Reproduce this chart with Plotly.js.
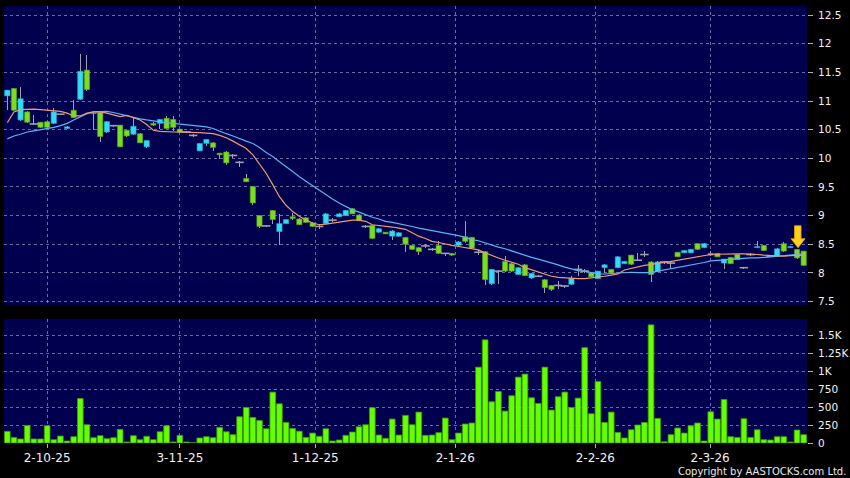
<!DOCTYPE html>
<html>
<head>
<meta charset="utf-8">
<script src="https://cdn.plot.ly/plotly-3.0.1.min.js"></script>
<style>html,body{margin:0;padding:0;background:#000;}#chart{width:850px;height:478px;}</style>
</head>
<body>
<div id="chart"></div>
<script>
// ---- data (index = trading day) ----
const opens = [11.09,11.22,10.67,10.81,10.60,10.63,10.64,10.61,10.77,10.52,
10.84,11.03,11.54,10.78,10.80,10.46,10.57,10.58,10.49,10.42,
10.43,10.20,10.61,10.61,10.70,10.68,10.51,10.46,10.40,10.13,
10.26,10.27,10.09,10.11,10.05,9.93,9.65,9.51,9.00,8.82,
9.09,8.72,8.86,8.98,8.94,8.96,8.87,8.81,8.86,8.92,
8.98,9.00,9.12,9.01,8.81,8.83,8.71,8.71,8.64,8.64,
8.62,8.48,8.44,8.47,8.41,8.48,8.34,8.34,8.48,8.63,
8.62,8.36,8.37,7.81,8.03,8.20,8.16,7.97,8.14,7.91,
7.94,7.88,7.78,7.78,7.77,7.80,8.06,8.03,8.00,7.90,
8.09,8.06,8.09,8.16,8.31,8.22,8.32,8.19,8.02,8.19,
8.17,8.36,8.35,8.35,8.51,8.44,8.31,8.34,8.17,8.27,
8.32,8.09,8.32,8.44,8.48,8.29,8.29,8.51,8.44,8.41,8.38];
const highs = [11.20,11.23,11.25,10.82,10.75,10.64,10.65,10.88,10.78,10.56,
11.02,11.82,11.80,10.81,10.82,10.66,10.59,10.59,10.50,10.70,
10.44,10.32,10.63,10.69,10.74,10.74,10.52,10.48,10.42,10.27,
10.34,10.28,10.10,10.12,10.08,9.95,9.72,9.52,9.01,8.84,
9.10,9.02,8.94,9.05,8.95,8.97,8.88,8.86,9.04,8.95,
9.04,9.10,9.13,9.02,8.83,8.84,8.78,8.72,8.74,8.71,
8.63,8.49,8.45,8.51,8.43,8.56,8.35,8.35,8.55,8.90,
8.63,8.40,8.38,8.07,8.05,8.29,8.17,8.10,8.15,8.00,
7.97,7.89,7.79,7.85,7.79,7.95,8.13,8.06,8.01,8.04,
8.15,8.07,8.29,8.21,8.32,8.35,8.38,8.20,8.20,8.21,
8.19,8.37,8.40,8.42,8.52,8.52,8.38,8.35,8.25,8.28,
8.33,8.10,8.34,8.56,8.49,8.31,8.43,8.53,8.47,8.42,8.39];
const lows = [10.84,10.82,10.66,10.61,10.59,10.53,10.53,10.60,10.76,10.51,
10.70,11.02,11.18,10.49,10.29,10.45,10.55,10.19,10.38,10.41,
10.26,10.18,10.57,10.52,10.51,10.48,10.44,10.44,10.38,10.12,
10.21,10.13,9.98,9.88,10.00,9.84,9.58,9.18,8.78,8.80,
8.86,8.49,8.85,8.93,8.83,8.87,8.80,8.76,8.85,8.89,
8.97,8.99,9.02,8.90,8.79,8.59,8.70,8.67,8.58,8.63,
8.37,8.40,8.32,8.44,8.39,8.33,8.29,8.30,8.47,8.52,
8.42,8.31,7.78,7.78,7.80,8.02,8.02,7.96,7.94,7.90,
7.92,7.65,7.68,7.72,7.74,7.79,7.94,8.00,7.92,7.89,
8.00,7.99,8.08,8.15,8.14,8.20,8.28,7.84,8.01,8.16,
8.06,8.27,8.34,8.34,8.40,8.43,8.30,8.27,8.07,8.15,
8.22,8.07,8.30,8.43,8.38,8.27,8.28,8.37,8.43,8.25,8.12];
const closes = [11.19,10.84,11.04,10.63,10.60,10.54,10.54,10.81,10.77,10.55,
10.71,11.52,11.20,10.79,10.38,10.64,10.57,10.20,10.39,10.56,
10.27,10.31,10.58,10.68,10.52,10.54,10.45,10.46,10.40,10.26,
10.33,10.19,10.06,9.92,10.05,9.93,9.59,9.22,8.81,8.82,
8.93,8.86,8.93,8.95,8.84,8.88,8.81,8.81,9.03,8.92,
9.03,9.09,9.03,8.91,8.81,8.60,8.77,8.68,8.73,8.70,
8.50,8.41,8.37,8.47,8.41,8.34,8.34,8.31,8.54,8.55,
8.43,8.36,7.88,8.06,8.03,8.03,8.03,8.09,7.95,7.99,
7.94,7.74,7.71,7.78,7.77,7.90,8.06,8.03,7.93,8.03,
8.14,8.00,8.28,8.20,8.15,8.22,8.32,7.97,8.19,8.19,
8.17,8.28,8.39,8.41,8.41,8.51,8.34,8.28,8.24,8.16,
8.23,8.09,8.32,8.46,8.39,8.29,8.42,8.38,8.46,8.26,8.13];
const volumes = [162,78,56,245,56,56,241,46,97,28,
88,621,255,74,102,60,74,190,14,102,
46,93,46,157,241,14,107,14,5,70,
88,74,218,157,116,366,496,357,315,199,
710,547,287,203,165,78,139,93,199,28,
42,107,153,227,255,492,111,65,334,111,
385,255,431,107,111,144,348,46,139,265,
279,1058,1439,575,719,445,659,919,961,631,
552,1058,459,645,710,496,626,1330,408,858,
287,431,148,70,185,251,287,1648,343,18,
116,209,139,241,279,28,436,334,608,88,
78,339,78,185,46,42,88,88,14,181,116];
const maShort = [10.62,10.81,10.85,10.86,10.86,10.85,10.84,10.83,10.82,10.79,
10.74,10.74,10.79,10.81,10.81,10.79,10.76,10.73,10.75,10.71,
10.67,10.59,10.49,10.47,10.46,10.46,10.46,10.46,10.46,10.45,
10.44,10.43,10.40,10.36,10.30,10.23,10.17,10.06,9.91,9.74,
9.54,9.33,9.18,9.07,8.99,8.92,8.87,8.84,8.85,8.87,
8.89,8.91,8.92,8.92,8.90,8.84,8.83,8.81,8.80,8.78,
8.76,8.70,8.64,8.60,8.55,8.53,8.50,8.48,8.46,8.44,
8.42,8.40,8.35,8.30,8.26,8.22,8.19,8.15,8.09,8.05,
8.01,7.97,7.94,7.92,7.91,7.91,7.90,7.90,7.91,7.93,
7.94,7.96,7.98,8.05,8.08,8.11,8.13,8.145,8.17,8.18,
8.20,8.21,8.23,8.26,8.28,8.30,8.32,8.325,8.33,8.33,
8.33,8.33,8.33,8.32,8.31,8.30,8.29,8.29,8.30,8.31,8.31];
const maLong = [10.34,10.39,10.42,10.46,10.48,10.50,10.51,10.54,10.57,10.61,
10.67,10.72,10.78,10.81,10.82,10.82,10.80,10.77,10.75,10.72,
10.69,10.67,10.65,10.63,10.62,10.61,10.60,10.59,10.58,10.57,
10.55,10.52,10.47,10.43,10.39,10.34,10.30,10.26,10.19,10.10,
10.03,9.94,9.86,9.77,9.68,9.60,9.52,9.45,9.37,9.29,
9.22,9.16,9.10,9.06,9.01,8.97,8.94,8.90,8.88,8.86,
8.83,8.81,8.78,8.76,8.73,8.71,8.69,8.68,8.65,8.62,
8.58,8.56,8.52,8.49,8.45,8.42,8.38,8.35,8.31,8.27,
8.24,8.21,8.17,8.14,8.10,8.07,8.04,8.03,8.005,7.98,
7.98,7.99,8.00,8.005,8.01,8.005,8.00,8.005,8.03,8.05,
8.07,8.10,8.12,8.14,8.16,8.18,8.21,8.22,8.23,8.24,
8.24,8.25,8.26,8.26,8.27,8.27,8.28,8.29,8.30,8.32,8.33];
const tickLabels = ['2-10-25','3-11-25','1-12-25','2-1-26','2-2-26','2-3-26'];
const tickIndex = [6,26,46.4,67.5,88.6,105.9];
const volTicks = [0,250,500,750,1000,1250,1500];
const volTickText = ['0','250','500','750','1K','1.25K','1.5K'];
const markedIndex = 119;

// ---- derived drawing inputs ----
const idx = closes.map((_, i) => i);
const UP = '#33dcf6', DOWN = '#7cdc22', WICK = '#a0a0aa';
const bodyBase = [], bodyLen = [], bodyColor = [], bodyLine = [];
const dojiX = [], dojiY = [];
const wickBase = lows.slice(), wickLen = highs.map((h, i) => h - lows[i]);
for (let i = 0; i < closes.length; i++) {
  const o = opens[i], c = closes[i];
  if (c === o) {
    bodyBase.push(null); bodyLen.push(null); bodyColor.push(WICK); bodyLine.push(WICK);
    dojiX.push(i); dojiY.push(c);
    continue;
  }
  bodyBase.push(Math.min(o, c));
  bodyLen.push(Math.abs(c - o));
  bodyColor.push(c > o ? UP : DOWN);
  bodyLine.push(c > o ? '#1fa6c6' : '#4f9e12');
}

const GRID = 'rgba(140,140,190,0.75)';
const FONT = 'DejaVu Sans, Verdana, sans-serif';

const traces = [
  { type: 'bar', x: idx, y: wickLen, base: wickBase, width: 0.15, xaxis: 'x', yaxis: 'y',
    marker: { color: WICK, line: { width: 0 } }, hoverinfo: 'skip' },
  { type: 'bar', x: idx, y: bodyLen, base: bodyBase, width: 0.8, xaxis: 'x', yaxis: 'y',
    marker: { color: bodyColor, line: { color: bodyLine, width: 0.6 } }, hoverinfo: 'skip' },
  { type: 'scatter', mode: 'markers', x: dojiX, y: dojiY, xaxis: 'x', yaxis: 'y',
    marker: { symbol: 'line-ew', size: 6, line: { color: WICK, width: 1.6 } }, hoverinfo: 'skip' },
  { type: 'scatter', mode: 'lines', x: idx, y: maLong, xaxis: 'x', yaxis: 'y',
    line: { color: '#58b4f2', width: 1.2 }, hoverinfo: 'skip' },
  { type: 'scatter', mode: 'lines', x: idx, y: maShort, xaxis: 'x', yaxis: 'y',
    line: { color: '#f09a72', width: 1.2 }, hoverinfo: 'skip' },
  { type: 'bar', x: idx, y: volumes, width: 0.86, xaxis: 'x', yaxis: 'y2',
    marker: { color: '#66ff00', line: { color: '#3c9c00', width: 0.8 } }, hoverinfo: 'skip' }
];

const layout = {
  width: 850, height: 478,
  paper_bgcolor: '#000000', plot_bgcolor: '#00004e',
  margin: { l: 4, r: 43, t: 6, b: 35 },
  showlegend: false, hovermode: false, barmode: 'overlay', bargap: 0,
  font: { family: FONT, color: '#f2f2f2', size: 11 },
  xaxis: {
    anchor: 'y2', range: [-0.5, 120.5],
    tickmode: 'array', tickvals: tickIndex, ticktext: tickLabels,
    ticks: 'outside', ticklen: 4, tickcolor: '#b0b0b0',
    tickfont: { family: FONT, size: 12, color: '#f2f2f2' },
    showgrid: true, gridcolor: GRID, griddash: '3px,3px', gridwidth: 1,
    zeroline: false, showline: false, fixedrange: true
  },
  yaxis: {
    domain: [0.316, 1], side: 'right', range: [7.44, 12.66],
    tick0: 7.5, dtick: 0.5, ticks: 'outside', ticklen: 5, tickcolor: '#b0b0b0',
    ticklabelstandoff: 3,
    tickfont: { family: FONT, size: 10.5, color: '#f2f2f2' },
    showgrid: true, gridcolor: GRID, griddash: '3px,3px', gridwidth: 1,
    zeroline: false, showline: false, fixedrange: true
  },
  yaxis2: {
    domain: [0, 0.284], side: 'right', range: [0, 1731], anchor: 'x',
    tickmode: 'array', tickvals: volTicks, ticktext: volTickText,
    ticks: 'outside', ticklen: 5, tickcolor: '#b0b0b0',
    ticklabelstandoff: 3,
    tickfont: { family: FONT, size: 10.5, color: '#f2f2f2' },
    showgrid: true, gridcolor: GRID, griddash: '3px,3px', gridwidth: 1,
    zeroline: false, showline: false, fixedrange: true
  },
  shapes: [{
    type: 'path', xref: 'x', yref: 'y', layer: 'above',
    xsizemode: 'pixel', ysizemode: 'pixel',
    xanchor: markedIndex, yanchor: highs[markedIndex],
    path: 'M 1 1 L -6 10 L -2.5 10 L -2.5 23 L 4 23 L 4 10 L 8 10 Z',
    fillcolor: '#ffd21a', line: { color: '#f0a000', width: 0.8 }
  }],
  annotations: [{
    xref: 'paper', yref: 'paper', x: 1.0515, y: -0.066, xanchor: 'right', yanchor: 'middle',
    text: 'Copyright by AASTOCKS.com Ltd.', showarrow: false,
    font: { family: FONT, size: 10, color: '#e8e8e8' }
  }]
};

Plotly.newPlot('chart', traces, layout, { displayModeBar: false, staticPlot: true });
</script>
</body>
</html>
